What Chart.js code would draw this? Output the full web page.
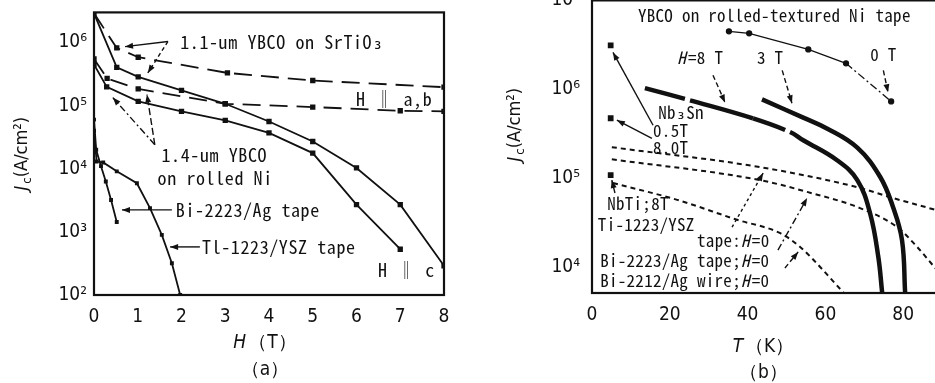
<!DOCTYPE html>
<html>
<head>
<meta charset="utf-8">
<script src="https://cdn.jsdelivr.net/npm/chart.js@4.4.1/dist/chart.umd.min.js"></script>
<style>
  html, body { margin: 0; padding: 0; background: #fff; overflow: hidden; width: 935px; height: 383px; position: relative; }
  #chart-a { position: absolute; left: 0; top: -6px; }
  #chart-b { position: absolute; left: 470px; top: -23px; }
</style>
</head>
<body>
<canvas id="chart-a" width="470" height="389"></canvas>
<canvas id="chart-b" width="540" height="406"></canvas>
<script>
// ---- (a) Jc vs H ----
const decadesA = [1e2, 1e3, 1e4, 1e5, 1e6];

const fieldStoAb = [0, 0.52, 1.01, 3.05, 5, 8];
const jcStoAb = [2.9e6, 8.2e5, 5.85e5, 3.3e5, 2.5e5, 1.96e5];

const fieldStoC = [0, 0.52, 1.01, 2, 3, 4, 5, 6, 7, 8];
const jcStoC = [2.9e6, 4.05e5, 2.86e5, 1.74e5, 1.07e5, 5.6e4, 2.7e4, 1.03e4, 2.7e3, 290];

const fieldNiAb = [0, 0.3, 1.01, 3, 5, 7, 8];
const jcNiAb = [5.5e5, 2.7e5, 1.84e5, 1.07e5, 9.5e4, 8.3e4, 8.1e4];

const fieldNiC = [0, 0.29, 1.01, 2, 3, 4, 5, 6, 7];
const jcNiC = [4.5e5, 1.98e5, 1.17e5, 8.1e4, 5.85e4, 3.7e4, 1.77e4, 2.7e3, 531];

const fieldBiTape = [0, 0.05, 0.16, 0.27, 0.39, 0.52];
const jcBiTape = [6e4, 2.0e4, 1.1e4, 6.3e3, 3.2e3, 1.43e3];

const fieldTlTape = [0, 0.06, 0.21, 0.52, 0.98, 1.28, 1.55, 1.78, 1.97];
const jcTlTape = [4e4, 1.3e4, 1.26e4, 9.1e3, 5.9e3, 2.38e3, 896, 318, 100];

// ---- (b) Jc vs T ----
const decadesB = [1e4, 1e5, 1e6, 1e7];

const temp0T = [35.2, 40.4, 55.6, 65.3, 76.9];
const jc0T = [4.49e6, 4.26e6, 2.81e6, 1.96e6, 7.3e5];

const temp8T = [13.6, 25.2, 41.4, 50.9, 54.3, 63.0, 68.2, 71.5, 73.6, 74.6];
const jc8T = [1.03e6, 7.5e5, 4.7e5, 3.3e5, 2.67e5, 1.59e5, 9.5e4, 4.0e4, 1.3e4, 5.1e3];

const temp3T = [43.7, 54.3, 60.5, 68.2, 74.1, 77.4, 79.7, 80.5];
const jc3T = [7.7e5, 4.8e5, 3.6e5, 2.2e5, 1.03e5, 4.7e4, 2.0e4, 5.1e3];

const tempTl1223 = [5.1, 43.2, 68.2, 77.2, 88.2, 92];
const jcTl1223 = [2.23e5, 1.33e5, 7.9e4, 6.0e4, 4.4e4, 3.9e4];

const tempBi2223 = [5.1, 43.2, 55.3, 68.9, 78.5, 83.6, 88.2, 92];
const jcBi2223 = [1.63e5, 9.5e4, 7.0e4, 4.6e4, 2.8e4, 1.68e4, 9.8e3, 6.5e3];

const tempBi2212 = [5.4, 21.9, 37.3, 48.4, 53.5, 64.6];
const jcBi2212 = [8.8e4, 5.7e4, 3.4e4, 2.4e4, 1.68e4, 5.2e3];

const tempLts = [4.8, 4.8, 4.8];
const jcLts = [3.12e6, 4.72e5, 1.08e5];

const Config = {
  colors: { ink: "#111111" },
  tickFont: `"DejaVu Sans Condensed", "Liberation Sans Narrow", "Liberation Sans", sans-serif`,
  labelFont: `"Noto Sans Mono CJK JP", "DejaVu Sans Mono", monospace`,
  titleFont: `"DejaVu Sans Condensed", "Liberation Sans", sans-serif`,
  lineWidth: 1.8,
};

const SUP = { 2: "²", 3: "³", 4: "⁴", 5: "⁵", 6: "⁶", 7: "⁷" };
const tenPow = (v) => "10" + SUP[Math.round(Math.log10(v))];

const mkLine = (xs, ys, extra) => ({
  data: xs.map((x, i) => ({ x, y: ys[i] })),
  borderColor: Config.colors.ink,
  backgroundColor: Config.colors.ink,
  borderWidth: Config.lineWidth,
  pointRadius: 0,
  pointStyle: "rect",
  fill: false,
  tension: 0,
  ...extra,
});

// small break at the end of the listed segments (thick curves in (b))
const breakAfter = (segs) => (c) => {
  if (!segs.includes(c.p0DataIndex)) return undefined;
  const len = Math.hypot(c.p1.x - c.p0.x, c.p1.y - c.p0.y);
  return [Math.max(len - 5, 1), 40];
};

// text in runs: [text, "i" | "sub"]
const drawRuns = (ctx, runs, x, y, size, family, align) => {
  const fontFor = (r) =>
    `${r[1] === "i" ? "italic " : ""}${r[1] === "sub" ? Math.round(size * 0.7) : size}px ${family}`;
  const gap = (r) => (r[1] === "i" ? 2 : 0);
  let w = 0;
  runs.forEach((r) => {
    ctx.font = fontFor(r);
    w += ctx.measureText(r[0]).width + gap(r);
  });
  let cx = align === "center" ? x - w / 2 : x;
  ctx.textAlign = "left";
  ctx.textBaseline = "middle";
  runs.forEach((r) => {
    ctx.font = fontFor(r);
    ctx.fillText(r[0], cx, r[1] === "sub" ? y + size * 0.3 : y);
    cx += ctx.measureText(r[0]).width + gap(r);
  });
};

const notes = {
  id: "notes",
  afterDatasetsDraw(chart, args, opts) {
    const { ctx, scales: { x, y } } = chart;
    const px = (p) => [x.getPixelForValue(p[0]), y.getPixelForValue(p[1])];
    ctx.save();
    ctx.strokeStyle = Config.colors.ink;
    ctx.fillStyle = Config.colors.ink;
    (opts.arrows || []).forEach((a) => {
      const [x0, y0] = px(a.from);
      const [x1, y1] = px(a.to);
      ctx.lineWidth = 1.4;
      ctx.setLineDash(a.dash || []);
      ctx.beginPath();
      ctx.moveTo(x0, y0);
      ctx.lineTo(x1, y1);
      ctx.stroke();
      ctx.setLineDash([]);
      const ang = Math.atan2(y1 - y0, x1 - x0);
      const c = Math.cos(ang), s = Math.sin(ang);
      ctx.beginPath();
      ctx.moveTo(x1, y1);
      ctx.lineTo(x1 - 8 * c + 3 * s, y1 - 8 * s - 3 * c);
      ctx.lineTo(x1 - 8 * c - 3 * s, y1 - 8 * s + 3 * c);
      ctx.closePath();
      ctx.fill();
    });
    ctx.letterSpacing = opts.spacing || "0px";
    (opts.labels || []).forEach((l) => {
      const [lx, ly] = px(l.at);
      drawRuns(ctx, l.runs, lx, ly, opts.size, Config.labelFont, l.align || "left");
    });
    ctx.restore();
  },
};

const frame = {
  id: "frame",
  afterDraw(chart, args, opts) {
    const { ctx, chartArea: a } = chart;
    ctx.save();
    ctx.strokeStyle = Config.colors.ink;
    ctx.fillStyle = Config.colors.ink;
    ctx.lineWidth = 2.2;
    ctx.strokeRect(a.left, a.top, a.right - a.left, a.bottom - a.top);
    const mid = (a.left + a.right) / 2;
    drawRuns(ctx, opts.xTitle, mid + opts.xTitleDx, a.bottom + opts.xTitleDy, 19, Config.titleFont, "center");
    drawRuns(ctx, [[opts.tag]], mid + opts.xTitleDx, a.bottom + opts.tagDy, 19, Config.titleFont, "center");
    ctx.translate(a.left + opts.yTitleDx, (a.top + a.bottom) / 2 + opts.yTitleDy);
    ctx.rotate(-Math.PI / 2);
    drawRuns(ctx, [["J", "i"], ["c", "sub"], ["(A/cm²)"]], 0, 0, 18, Config.titleFont, "center");
    ctx.restore();
  },
};

const axisX = (min, max, step, height) => ({
  type: "linear",
  min,
  max,
  afterFit: (s) => { s.height = height; },
  grid: { display: false, drawTicks: false },
  border: { display: false },
  ticks: { stepSize: step, padding: 11, color: Config.colors.ink, font: { family: Config.tickFont, size: 19 } },
});

const axisY = (min, max, decades, width, pad) => ({
  type: "logarithmic",
  min,
  max,
  afterFit: (s) => { s.width = width; },
  afterBuildTicks: (s) => { s.ticks = decades.map((v) => ({ value: v })); },
  grid: { display: false, drawTicks: false },
  border: { display: false },
  ticks: { padding: pad, color: Config.colors.ink, font: { family: Config.tickFont, size: 19 }, callback: (v) => tenPow(v) },
});

const dashLong = [18, 9];

new Chart(document.getElementById("chart-a"), {
  type: "line",
  data: {
    datasets: [
      mkLine(fieldStoAb, jcStoAb, { borderDash: dashLong, pointRadius: [0, 2.5, 2.5, 2.5, 2.5, 2.5] }),
      mkLine(fieldStoC, jcStoC, { pointRadius: 2.5 }),
      mkLine(fieldNiAb, jcNiAb, { borderDash: dashLong, pointRadius: 2.5 }),
      mkLine(fieldNiC, jcNiC, { pointRadius: 2.5 }),
      mkLine(fieldBiTape, jcBiTape, { pointRadius: 1.5 }),
      mkLine(fieldTlTape, jcTlTape, { pointRadius: 1.5 }),
    ],
  },
  options: {
    responsive: false,
    animation: false,
    layout: { padding: { left: 0, top: 0, right: 26, bottom: 0 } },
    scales: {
      x: axisX(0, 8, 1, 88),
      y: axisY(100, 3e6, decadesA, 94, 7),
    },
    plugins: {
      legend: { display: false },
      tooltip: { enabled: false },
      notes: {
        size: 18,
        spacing: "0.6px",
        labels: [
          { at: [1.97, 1e6], runs: [["1.1-um YBCO on SrTiO₃"]] },
          { at: [5.99, 1.29e5], runs: [["H ‖ a,b"]] },
          { at: [2.75, 1.67e4], runs: [["1.4-um YBCO"]], align: "center" },
          { at: [2.77, 7.2e3], runs: [["on rolled Ni"]], align: "center" },
          { at: [1.87, 2.23e3], runs: [["Bi-2223/Ag tape"]] },
          { at: [2.47, 578], runs: [["Tl-1223/YSZ tape"]] },
          { at: [6.49, 250], runs: [["H ‖ c"]] },
        ],
        arrows: [
          { from: [1.69, 1.04e6], to: [0.71, 8.6e5] },
          { from: [1.69, 1.04e6], to: [1.23, 3.3e5], dash: [4, 3] },
          { from: [1.39, 2.4e4], to: [0.43, 1.34e5], dash: [7, 3, 2, 3] },
          { from: [1.39, 2.4e4], to: [1.21, 1.5e5], dash: [7, 3] },
          { from: [1.78, 2.23e3], to: [0.64, 2.23e3] },
          { from: [2.42, 578], to: [1.74, 578] },
        ],
      },
      frame: { xTitle: [["H", "i"], ["（T）"]], tag: "（a）", xTitleDx: -4, xTitleDy: 48, tagDy: 75, yTitleDx: -72, yTitleDy: 0 },
    },
  },
  plugins: [notes, frame],
});

const dotted = [5, 4];

new Chart(document.getElementById("chart-b"), {
  type: "line",
  data: {
    datasets: [
      mkLine(temp0T, jc0T, {
        borderWidth: 1.3,
        pointRadius: 2.5,
        pointStyle: "circle",
        segment: { borderDash: (c) => (c.p0DataIndex >= 3 ? [8, 3, 2, 3] : undefined) },
      }),
      mkLine(temp8T, jc8T, { borderWidth: 4.5, tension: 0.4, segment: { borderDash: breakAfter([0, 2]) } }),
      mkLine(temp3T, jc3T, { borderWidth: 4.5, tension: 0.4 }),
      mkLine(tempTl1223, jcTl1223, { borderWidth: 2, borderDash: dotted, cubicInterpolationMode: "monotone" }),
      mkLine(tempBi2223, jcBi2223, { borderWidth: 2, borderDash: dotted, cubicInterpolationMode: "monotone" }),
      mkLine(tempBi2212, jcBi2212, { borderWidth: 2, borderDash: dotted, cubicInterpolationMode: "monotone" }),
      mkLine(tempLts, jcLts, { showLine: false, pointRadius: 2.8 }),
    ],
  },
  options: {
    responsive: false,
    animation: false,
    layout: { padding: { left: 0, top: 0, right: 29, bottom: 0 } },
    scales: {
      x: axisX(0, 100, 20, 90),
      y: axisY(5100, 1e7, decadesB, 122, 12),
    },
    plugins: {
      legend: { display: false },
      tooltip: { enabled: false },
      notes: {
        size: 17,
        spacing: "0.3px",
        labels: [
          { at: [11.8, 6.78e6], runs: [["YBCO on rolled-textured Ni tape"]] },
          { at: [21.9, 2.29e6], runs: [["H", "i"], ["=8 T"]] },
          { at: [42.4, 2.29e6], runs: [["3 T"]] },
          { at: [71.5, 2.47e6], runs: [["0 T"]] },
          { at: [17.0, 5.5e5], runs: [["Nb₃Sn"]] },
          { at: [15.7, 3.46e5], runs: [["0.5T"]] },
          { at: [15.7, 2.23e5], runs: [["8.0T"]] },
          { at: [3.9, 5.2e4], runs: [["NbTi;8T"]] },
          { at: [1.5, 2.97e4], runs: [["Ti-1223/YSZ"]] },
          { at: [27.0, 1.96e4], runs: [["tape:"], ["H", "i"], ["=0"]] },
          { at: [2.1, 1.17e4], runs: [["Bi-2223/Ag tape;"], ["H", "i"], ["=0"]] },
          { at: [2.1, 7.1e3], runs: [["Bi-2212/Ag wire;"], ["H", "i"], ["=0"]] },
        ],
        arrows: [
          { from: [31.1, 1.44e6], to: [34.2, 7.1e5], dash: [5, 3] },
          { from: [48.9, 1.63e6], to: [51.4, 6.97e5], dash: [5, 3] },
          { from: [74.9, 1.63e6], to: [76.1, 9.25e5], dash: [5, 3] },
          { from: [15.7, 3.94e5], to: [5.4, 2.6e6] },
          { from: [15.4, 2.81e5], to: [6.4, 4.49e5] },
          { from: [5.9, 6.8e4], to: [5.1, 9.5e4] },
          { from: [36.0, 2.81e4], to: [44.0, 1.14e5], dash: [3, 3] },
          { from: [47.8, 1.55e4], to: [55.3, 5.96e4], dash: [7, 3, 2, 3] },
          { from: [49.6, 9.75e3], to: [53.0, 1.48e4], dash: [5, 3] },
        ],
      },
      frame: { xTitle: [["T", "i"], ["（K）"]], tag: "（b）", xTitleDx: -23, xTitleDy: 54, tagDy: 80, yTitleDx: -77, yTitleDy: -22 },
    },
  },
  plugins: [notes, frame],
});
</script>
</body>
</html>
